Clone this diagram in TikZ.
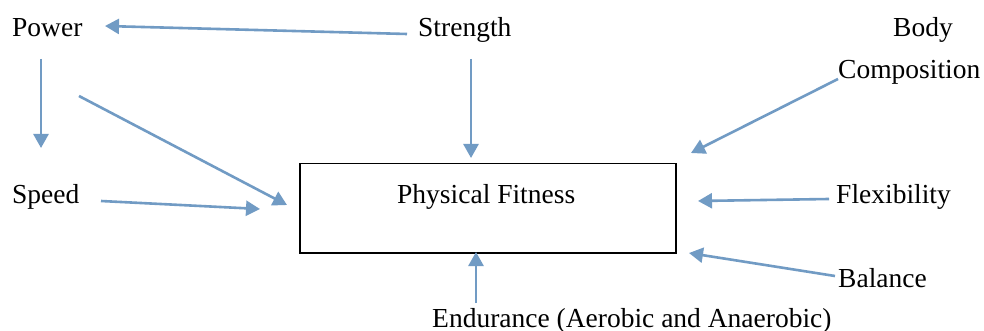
\documentclass[tikz,border=0pt]{standalone}
\usepackage{fontspec}
\setmainfont{Liberation Serif}
\usetikzlibrary{arrows.meta}
\definecolor{arrowblue}{RGB}{113,155,196}
\begin{document}
\begin{tikzpicture}[x=1pt,y=-1pt,
  lbl/.style={anchor=base west,inner sep=0pt,font=\fontsize{27.5}{33}\selectfont},
  conn/.style={draw=arrowblue,line width=2.6pt,-{Triangle[length=14pt,width=15pt]}}]
\useasboundingbox[fill=white] (0,0) rectangle (984,331);
% box
\node[draw=black,line width=1.5pt,minimum width=376pt,minimum height=89pt,inner sep=0pt,anchor=north west] (pf) at (299,163) {};
\node[lbl] (pft) at (397,203) {Physical Fitness};
% labels
\node[lbl] (power) at (12,37) {Power};
\node[lbl] (strength) at (418,37) {Strength};
\node[lbl] (body) at (893,37) {Body};
\node[lbl] (comp) at (838,79) {Composition};
\node[lbl] (speed) at (12,203) {Speed};
\node[lbl] (flex) at (836,203) {Flexibility};
\node[lbl] (bal) at (838,287) {Balance};
\node[lbl] (endu) at (432,327) {Endurance (Aerobic and Anaerobic)};
% connector points
\coordinate (a1s) at (407,34);  \coordinate (a1e) at (105,26);
\coordinate (a2s) at (41,59);   \coordinate (a2e) at (41,148);
\coordinate (a3s) at (79,96);   \coordinate (a3e) at (287,205);
\coordinate (a4s) at (101,201); \coordinate (a4e) at (260,209);
\coordinate (a5s) at (471,59);  \coordinate (a5e) at (471,158);
\coordinate (a6s) at (838,79);  \coordinate (a6e) at (691,153);
\coordinate (a7s) at (829,199); \coordinate (a7e) at (698,201);
\coordinate (a8s) at (835,276); \coordinate (a8e) at (689,253);
\coordinate (a9s) at (476,303); \coordinate (a9e) at (476,252);
\foreach \i in {1,...,9} { \draw[conn] (a\i s) -- (a\i e); }
\end{tikzpicture}
\end{document}
